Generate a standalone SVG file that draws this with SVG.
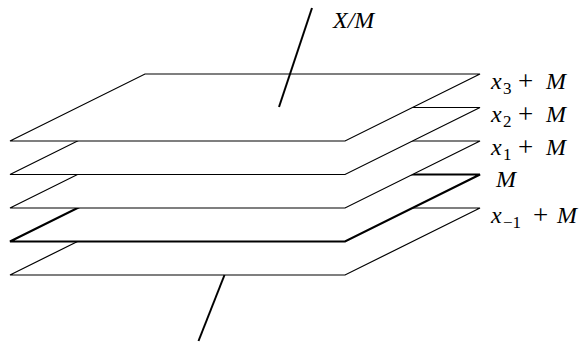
<svg xmlns="http://www.w3.org/2000/svg" width="588" height="343" viewBox="0 0 588 343">
  <style>
    .plane { fill: #ffffff; stroke: #000000; stroke-width: 1.2; stroke-linejoin: miter; }
    .plane.bold { stroke-width: 2.2; }
    .axis { stroke: #000000; stroke-width: 2; fill: none; }
  </style>

  <!-- stacked cosets, drawn bottom-up so upper sheets hide the ones below -->
  <g id="plane-xm1">
    <polygon class="plane" points="10,275 145,208 480,208 345,275"/>
  </g>
  <g id="plane-m">
    <polygon class="plane bold" points="10,241.5 145,174.5 480,174.5 345,241.5"/>
  </g>
  <g id="plane-x1">
    <polygon class="plane" points="10,208 145,141 480,141 345,208"/>
  </g>
  <g id="plane-x2">
    <polygon class="plane" points="10,174.5 145,107.5 480,107.5 345,174.5"/>
  </g>
  <g id="plane-x3">
    <polygon class="plane" points="10,141 145,74 480,74 345,141"/>
  </g>

  <!-- quotient axis X/M piercing the stack -->
  <g id="connectors">
    <line class="axis" x1="312" y1="8" x2="279" y2="107"/>
    <line class="axis" x1="224.5" y1="275" x2="198.5" y2="341"/>
  </g>

  <g id="labels" font-family="Liberation Serif, serif" fill="#000000" font-size="24">
    <text x="333" y="28" font-style="italic">X/M</text>

    <g id="label-x3">
      <text x="491" y="89" font-style="italic">x</text>
      <text x="503" y="94" font-size="17">3</text>
      <text x="518" y="90" font-size="27">+</text>
      <text x="546" y="89" font-style="italic">M</text>
    </g>
    <g id="label-x2">
      <text x="491" y="122" font-style="italic">x</text>
      <text x="503" y="127" font-size="17">2</text>
      <text x="518" y="123" font-size="27">+</text>
      <text x="546" y="122" font-style="italic">M</text>
    </g>
    <g id="label-x1">
      <text x="491" y="155" font-style="italic">x</text>
      <text x="503" y="160" font-size="17">1</text>
      <text x="518" y="156" font-size="27">+</text>
      <text x="546" y="155" font-style="italic">M</text>
    </g>
    <g id="label-m">
      <text x="496" y="187" font-style="italic">M</text>
    </g>
    <g id="label-xm1">
      <text x="491" y="223" font-style="italic">x</text>
      <text x="503" y="228" font-size="17">−1</text>
      <text x="533" y="224" font-size="27">+</text>
      <text x="557" y="223" font-style="italic">M</text>
    </g>
  </g>
</svg>
